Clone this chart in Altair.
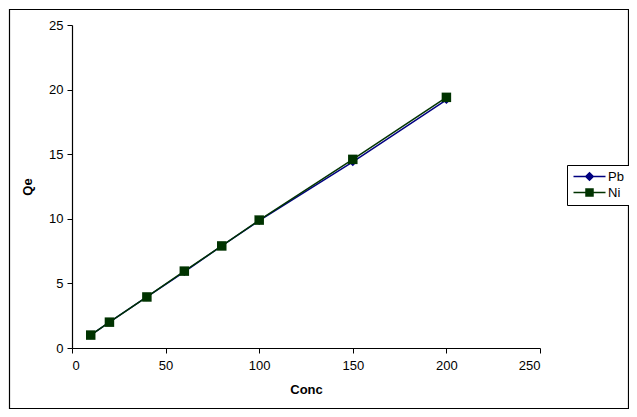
import altair as alt
import pandas as pd

conc = [10, 20, 40, 60, 80, 100, 150, 200]
pb = [1.0, 2.0, 3.95, 5.9, 7.9, 9.85, 14.4, 19.2]
ni = [1.0, 2.0, 3.95, 5.95, 7.9, 9.9, 14.6, 19.4]
series_names = ["Pb", "Ni"]
series_colors = ["#000080", "#003300"]
x_ticks = [0, 50, 100, 150, 200, 250]
y_ticks = [0, 5, 10, 15, 20, 25]

df = pd.DataFrame(
    {"Conc": conc * 2, "Qe": pb + ni, "series": ["Pb"] * len(conc) + ["Ni"] * len(conc)}
)

FONT = "Liberation Sans"

xs = alt.X("Conc:Q", scale=alt.Scale(domain=[0, 250], nice=False, zero=True),
           axis=alt.Axis(values=x_ticks, title="Conc", grid=False))
ys = alt.Y("Qe:Q", scale=alt.Scale(domain=[0, 25], nice=False),
           axis=alt.Axis(values=y_ticks, title="Qe", grid=False))

base = alt.Chart(df)

layers = []
for name, col, shp in zip(series_names, series_colors, ["diamond", "square"]):
    sub = base.transform_filter(alt.datum.series == name)
    layers.append(sub.mark_line(color=col, strokeWidth=1.5).encode(x=xs, y=ys))
    layers.append(sub.mark_point(color=col, filled=True, shape=shp, size=90 if shp == "square" else 70, opacity=1).encode(x=xs, y=ys))

# legend symbols: line segment plus marker, drawn to the right of the symbol centre
path_pb = "M-1,0L5.4,0M2.2,-0.75L2.95,0L2.2,0.75L1.45,0Z"
path_ni = "M-1,0L5.4,0M1.5,-0.7L2.9,-0.7L2.9,0.7L1.5,0.7Z"

leg = alt.Legend(
    title=None, orient="none", legendX=495, legendY=140,
    strokeColor="black", padding=5, fillColor="white",
    symbolSize=100, symbolStrokeWidth=1.5, symbolOpacity=1,
    labelFont=FONT, labelFontSize=13, labelColor="black", labelOffset=23,
    rowPadding=2,
)
legend_layer = base.mark_point(filled=True, opacity=0).encode(
    x=xs, y=ys,
    fill=alt.Fill("series:N", scale=alt.Scale(domain=series_names, range=series_colors), legend=leg),
    stroke=alt.Stroke("series:N", scale=alt.Scale(domain=series_names, range=series_colors), legend=leg),
    shape=alt.Shape("series:N", scale=alt.Scale(domain=series_names, range=[path_pb, path_ni]), legend=leg),
)

border = alt.Chart(pd.DataFrame({"a": [0]})).mark_rect(
    fill="transparent", stroke="black", strokeWidth=1.2
).encode(
    x=alt.value(-62.5), x2=alt.value(556.5), y=alt.value(-15.5), y2=alt.value(383.5)
)

chart = alt.layer(*layers, legend_layer, border).properties(
    width=468, height=323,
    autosize=alt.AutoSizeParams(type="none"),
    padding={"left": 64, "top": 17, "right": 89, "bottom": 61},
).configure_view(stroke=None).configure_axis(
    labelFont=FONT, labelFontSize=13, labelColor="black",
    titleFont=FONT, titleFontSize=13, titleFontWeight="bold", titleColor="black",
    domainColor="black", tickColor="black", tickSize=5, domainWidth=1.2,
).configure_axisY(titlePadding=14, labelPadding=4).configure_axisX(titlePadding=11, labelPadding=6)

chart.save("out.html", embed_options={"renderer": "svg", "actions": False})
